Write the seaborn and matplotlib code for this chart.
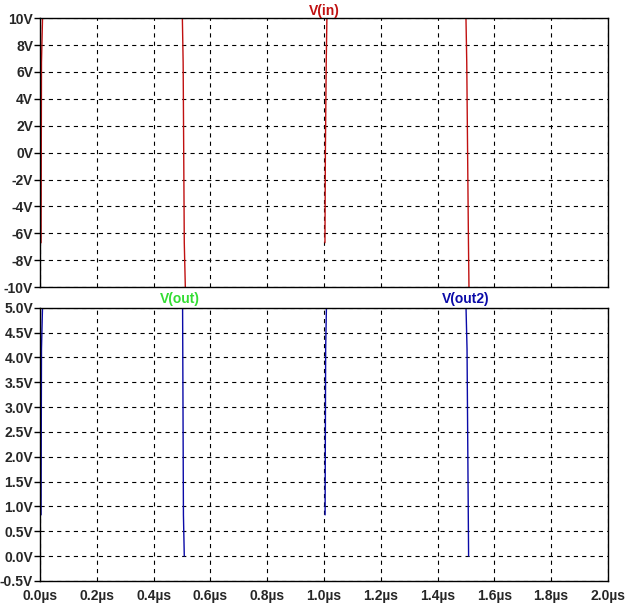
import matplotlib
matplotlib.use("Agg")
import matplotlib.pyplot as plt
import seaborn as sns
import pandas as pd

# time in microseconds, value in volts, one list per visible edge
vin_t = [[0.0035, 0.005, 0.009],
         [0.501, 0.504, 0.506, 0.508, 0.512],
         [1.0035, 1.005, 1.008, 1.0106],
         [1.500, 1.503, 1.506, 1.509, 1.511]]
vin_v = [[-6.7, 6.7, 10.3],
         [10.3, 6.7, 0.0, -6.7, -10.3],
         [-6.7, 0.0, 6.7, 10.3],
         [10.3, 6.7, 0.0, -6.7, -10.3]]

vout2_t = [[0.0035, 0.005, 0.009],
           [0.502, 0.505, 0.508],
           [1.004, 1.006, 1.009],
           [1.500, 1.504, 1.5095]]
vout2_v = [[0.83, 4.17, 5.1],
           [5.1, 0.83, 0.0],
           [0.83, 4.17, 5.1],
           [5.1, 4.17, 0.0]]

x_ticks = [0.0, 0.2, 0.4, 0.6, 0.8, 1.0, 1.2, 1.4, 1.6, 1.8, 2.0]
top_ticks = [-10, -8, -6, -4, -2, 0, 2, 4, 6, 8, 10]
bot_ticks = [-0.5, 0.0, 0.5, 1.0, 1.5, 2.0, 2.5, 3.0, 3.5, 4.0, 4.5, 5.0]


def to_frame(ts, vs):
    rows = []
    for i, (tt, vv) in enumerate(zip(ts, vs)):
        for t, v in zip(tt, vv):
            rows.append({"t": t, "v": v, "edge": i})
    return pd.DataFrame(rows)


sns.set_theme(style="white")
plt.rcParams['font.family'] = ['Liberation Sans', 'DejaVu Sans']
plt.rcParams['font.weight'] = 'bold'
plt.rcParams['lines.scale_dashes'] = False

fig = plt.figure(figsize=(6.26, 6.07), dpi=100)
ax1 = fig.add_axes([0.064, 0.527, 0.907, 0.443])
ax2 = fig.add_axes([0.064, 0.043, 0.907, 0.450])

red = "#c01010"
blue = "#0a0aa8"
green = "#33dd33"
fs = 10

sns.lineplot(data=to_frame(vin_t, vin_v), x="t", y="v", units="edge", estimator=None,
             sort=False, color=red, lw=1.0, ax=ax1)
sns.lineplot(data=to_frame(vout2_t, vout2_v), x="t", y="v", units="edge", estimator=None,
             sort=False, color=blue, lw=1.0, ax=ax2)

for ax, yt, ylim, fmt in [(ax1, top_ticks, (-10, 10), "{:.0f}V"),
                          (ax2, bot_ticks, (-0.5, 5.0), "{:.1f}V")]:
    ax.set_xlim(0, 2.0)
    ax.set_ylim(*ylim)
    ax.set_xticks(x_ticks)
    ax.set_yticks(yt)
    ax.set_yticklabels([fmt.format(v) for v in yt], fontsize=fs, fontweight='bold')
    ax.grid(True, color="black", linestyle=(0, (3, 3)), lw=0.8)
    ax.set_xlabel("")
    ax.set_ylabel("")
    for s in ax.spines.values():
        s.set_color("black")
        s.set_linewidth(1.0)
    ax.tick_params(axis='y', length=4.5, width=1, color="black", direction="out", pad=0.5, left=True)
    ax.tick_params(axis='x', length=0, pad=6)

ax1.set_xticklabels([])
ax2.set_xticklabels([f"{v:.1f}µs" for v in x_ticks], fontsize=fs, fontweight='bold')

ax1.set_title("V(in)", color=red, fontsize=fs, fontweight='bold', pad=2)
ax2.text(0.246, 1.008, "V(out)", color=green, fontsize=fs, fontweight='bold',
         ha="center", va="bottom", transform=ax2.transAxes)
ax2.text(0.75, 1.008, "V(out2)", color=blue, fontsize=fs, fontweight='bold',
         ha="center", va="bottom", transform=ax2.transAxes)

fig.savefig("out.png", dpi=100)
